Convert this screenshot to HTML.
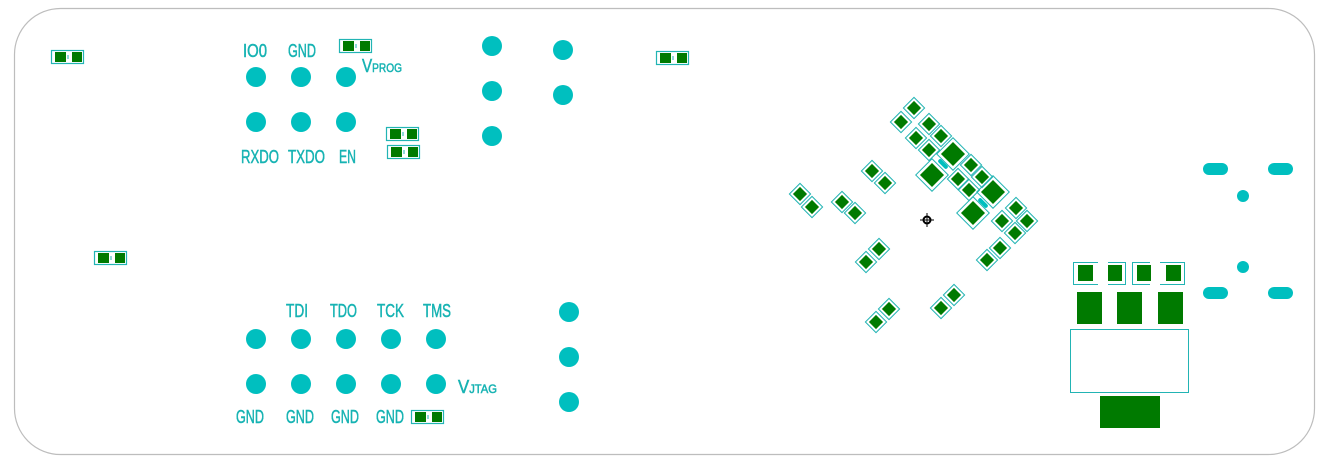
<!DOCTYPE html>
<html><head><meta charset="utf-8"><style>
html,body{margin:0;padding:0;background:#fff;}
svg{display:block}
text{font-family:"Liberation Sans",sans-serif;fill:#17b3b3;stroke:#17b3b3;stroke-width:0.5;font-size:18px;}
</style></head><body>
<svg width="1328" height="467" viewBox="0 0 1328 467" xmlns="http://www.w3.org/2000/svg">
<defs>
<g id="hp"><rect x="0.5" y="0.5" width="32" height="13" fill="none" stroke="#22b4b4" stroke-width="1.2"/><rect x="4" y="2" width="11" height="10" fill="#007a00"/><rect x="21" y="2" width="10" height="10" fill="#007a00"/><rect x="16.5" y="5" width="1" height="4" fill="#22b4b4"/></g>
<g id="sp"><rect x="-7.5" y="-7.5" width="15" height="15" fill="none" stroke="#22b4b4" stroke-width="1"/><rect x="-5" y="-5" width="10" height="10" fill="#007a00"/></g>
<g id="lp"><rect x="-11.5" y="-11.5" width="23" height="23" fill="none" stroke="#22b4b4" stroke-width="1"/><rect x="-8.5" y="-8.5" width="17" height="17" fill="#007a00"/></g>
</defs>
<rect x="14.5" y="8.5" width="1300" height="446" rx="46" ry="46" fill="none" stroke="#bdbdbd" stroke-width="1.2"/>

<use href="#hp" x="51" y="50"/>
<use href="#hp" x="656" y="51"/>
<use href="#hp" x="94" y="251"/>
<use href="#hp" x="339" y="39"/>
<use href="#hp" x="386" y="127"/>
<use href="#hp" x="387" y="145"/>
<use href="#hp" x="411" y="410"/>

<g fill="#00bfbf">
<circle cx="256" cy="77" r="10"/><circle cx="301" cy="77" r="10"/><circle cx="346" cy="77" r="10"/>
<circle cx="256" cy="122" r="10"/><circle cx="301" cy="122" r="10"/><circle cx="346" cy="122" r="10"/>
<circle cx="492" cy="46" r="10"/><circle cx="492" cy="91" r="10"/><circle cx="492" cy="136" r="10"/>
<circle cx="563" cy="50" r="10"/><circle cx="563" cy="95" r="10"/>
<circle cx="256" cy="339" r="10"/><circle cx="301" cy="339" r="10"/><circle cx="346" cy="339" r="10"/><circle cx="391" cy="339" r="10"/><circle cx="436" cy="339" r="10"/>
<circle cx="256" cy="384" r="10"/><circle cx="301" cy="384" r="10"/><circle cx="346" cy="384" r="10"/><circle cx="391" cy="384" r="10"/><circle cx="436" cy="384" r="10"/>
<circle cx="569" cy="312" r="10"/><circle cx="569" cy="357" r="10"/><circle cx="569" cy="402" r="10"/>
<rect x="1203" y="163" width="25" height="12" rx="6"/><rect x="1268" y="163" width="25" height="12" rx="6"/>
<rect x="1203" y="287" width="25" height="12" rx="6"/><rect x="1268" y="287" width="25" height="12" rx="6"/>
<circle cx="1243" cy="196" r="6"/><circle cx="1243" cy="267" r="6"/>
</g>

<text x="243" y="57" textLength="24" lengthAdjust="spacingAndGlyphs">IO0</text>
<text x="288" y="57" textLength="28" lengthAdjust="spacingAndGlyphs">GND</text>
<text x="362" y="72" textLength="40" lengthAdjust="spacingAndGlyphs" font-size="15">V<tspan font-size="12">PROG</tspan></text>
<text x="241" y="163" textLength="38" lengthAdjust="spacingAndGlyphs">RXDO</text>
<text x="288" y="163" textLength="37" lengthAdjust="spacingAndGlyphs">TXDO</text>
<text x="339" y="163" textLength="17" lengthAdjust="spacingAndGlyphs">EN</text>
<text x="286" y="317" textLength="22" lengthAdjust="spacingAndGlyphs">TDI</text>
<text x="330" y="317" textLength="27" lengthAdjust="spacingAndGlyphs">TDO</text>
<text x="377" y="317" textLength="27" lengthAdjust="spacingAndGlyphs">TCK</text>
<text x="423" y="317" textLength="28" lengthAdjust="spacingAndGlyphs">TMS</text>
<text x="458" y="393" textLength="39" lengthAdjust="spacingAndGlyphs" font-size="15">V<tspan font-size="12">JTAG</tspan></text>
<text x="236" y="423" textLength="28" lengthAdjust="spacingAndGlyphs">GND</text>
<text x="286" y="423" textLength="28" lengthAdjust="spacingAndGlyphs">GND</text>
<text x="331" y="423" textLength="28" lengthAdjust="spacingAndGlyphs">GND</text>
<text x="376" y="423" textLength="28" lengthAdjust="spacingAndGlyphs">GND</text>

<g>
<use href="#sp" transform="translate(914,108) rotate(45)"/><use href="#sp" transform="translate(901,122) rotate(45)"/>
<use href="#sp" transform="translate(929,124) rotate(45)"/><use href="#sp" transform="translate(941,136) rotate(45)"/>
<use href="#sp" transform="translate(916,138) rotate(45)"/><use href="#sp" transform="translate(929,150) rotate(45)"/>
<use href="#lp" transform="translate(953,154) rotate(45)"/><use href="#lp" transform="translate(932,175) rotate(45)"/>
<rect x="-6" y="-2" width="12" height="4" rx="2" fill="#00bfbf" transform="translate(943,164) rotate(45)"/>
<use href="#sp" transform="translate(971,165) rotate(45)"/><use href="#sp" transform="translate(982,177) rotate(45)"/>
<use href="#sp" transform="translate(958,179) rotate(45)"/><use href="#sp" transform="translate(969,190) rotate(45)"/>
<use href="#lp" transform="translate(993,192) rotate(45)"/><use href="#lp" transform="translate(973,213) rotate(45)"/>
<rect x="-6" y="-2" width="12" height="4" rx="2" fill="#00bfbf" transform="translate(983,203) rotate(45)"/>
<use href="#sp" transform="translate(1016,208) rotate(45)"/><use href="#sp" transform="translate(1027,221) rotate(45)"/>
<use href="#sp" transform="translate(1002,221) rotate(45)"/><use href="#sp" transform="translate(1015,233) rotate(45)"/>
<use href="#sp" transform="translate(1000,248) rotate(45)"/><use href="#sp" transform="translate(987,260) rotate(45)"/>
<use href="#sp" transform="translate(872,171) rotate(45)"/><use href="#sp" transform="translate(885,183) rotate(45)"/>
<use href="#sp" transform="translate(800,194) rotate(45)"/><use href="#sp" transform="translate(812,207) rotate(45)"/>
<use href="#sp" transform="translate(842,202) rotate(45)"/><use href="#sp" transform="translate(855,213) rotate(45)"/>
<use href="#sp" transform="translate(879,249) rotate(45)"/><use href="#sp" transform="translate(866,262) rotate(45)"/>
<use href="#sp" transform="translate(954,295) rotate(45)"/><use href="#sp" transform="translate(941,308) rotate(45)"/>
<use href="#sp" transform="translate(889,309) rotate(45)"/><use href="#sp" transform="translate(876,322) rotate(45)"/>
</g>
<g stroke="#000" fill="none"><circle cx="927" cy="220" r="3.5" stroke-width="2"/><line x1="927" y1="213" x2="927" y2="227"/><line x1="920" y1="220" x2="934" y2="220"/></g>

<g fill="none" stroke="#22b4b4" stroke-width="1">
<rect x="1073.5" y="262.5" width="52" height="22"/>
<rect x="1132.5" y="262.5" width="52" height="22"/>
<rect x="1070.5" y="329.5" width="118" height="63"/>
</g>
<rect x="1098" y="260" width="10" height="30" fill="#fff"/>
<rect x="1150" y="260" width="10" height="30" fill="#fff"/>
<g fill="#007a00">
<rect x="1078" y="265" width="15" height="16"/><rect x="1108" y="265" width="14" height="16"/>
<rect x="1137" y="265" width="14" height="16"/><rect x="1166" y="265" width="15" height="16"/>
<rect x="1077" y="292" width="25" height="32"/><rect x="1117" y="292" width="25" height="32"/><rect x="1158" y="292" width="25" height="32"/>
<rect x="1100" y="396" width="60" height="32"/>
</g>
</svg>
</body></html>
